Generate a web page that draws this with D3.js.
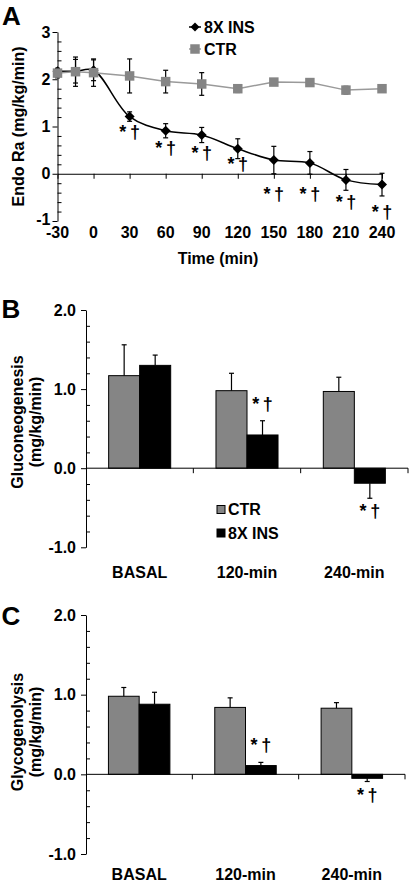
<!DOCTYPE html>
<html><head><meta charset="utf-8">
<script src="https://cdn.jsdelivr.net/npm/d3@7"></script>
<style>
body{margin:0;background:#fff}
svg{display:block}
text{font-family:"Liberation Sans",Arial,Helvetica,sans-serif;font-weight:bold;fill:#000}
</style>
</head><body>
<svg id="chart" width="410" height="886"></svg>
<script>
// ---------- Panel A data ----------
const timePoints = [-30, -15, 0, 30, 60, 90, 120, 150, 180, 210, 240];
const insRa    = [2.17, 2.17, 2.19, 1.21, 0.91, 0.82, 0.53, 0.29, 0.23, -0.13, -0.23];
const insRaErr = [0.06, 0.25, 0.22, 0.10, 0.15, 0.16, 0.21, 0.29, 0.24, 0.22, 0.24];
const ctrRa    = [2.13, 2.16, 2.14, 2.07, 1.95, 1.90, 1.80, 1.94, 1.93, 1.77, 1.80];
const ctrRaErr = [0.10, 0.31, 0.29, 0.36, 0.24, 0.24, 0.08, 0.06, 0.05, 0.08, 0.06];
const timeTicks = [-30, 0, 30, 60, 90, 120, 150, 180, 210, 240];
const raTicks = [3, 2, 1, 0, -1];
const sigTimes = [30, 60, 90, 120, 150, 180, 210, 240];
const sigLabelY = [0.76, 0.42, 0.31, 0.08, -0.56, -0.56, -0.73, -0.94];
const seriesA = ["8X INS", "CTR"];

// ---------- Panels B & C data ----------
const periods = ["BASAL", "120-min", "240-min"];
const groups = ["CTR", "8X INS"];
const gngCtr = [1.17, 0.98, 0.97];
const gngCtrErr = [0.39, 0.22, 0.18];
const gngIns = [1.30, 0.42, -0.19];
const gngInsErr = [0.13, 0.18, 0.19];
const glyCtr = [0.98, 0.84, 0.83];
const glyCtrErr = [0.11, 0.12, 0.07];
const glyIns = [0.88, 0.11, -0.05];
const glyInsErr = [0.15, 0.04, 0.04];
const barTicks = [2, 1, 0, -1];
const barSig = ["120-min", "240-min"];   // 8X INS significant periods

const svg = d3.select("#chart");
const FS = 16;
const SIG_FS = 18;
const SIG_TEXT = "*\u2009\u2020";
const grayFill = "#858585";
const grayLine = "#9a9a9a";

function styleAxis(g, size) {
  g.selectAll("path.domain").attr("stroke", "#000").attr("stroke-width", 1);
  g.selectAll(".tick line").attr("stroke", "#000").attr("stroke-width", 1);
  g.selectAll("text").attr("font-size", size || FS).attr("fill", "#000")
    .attr("font-family", '"Liberation Sans",Arial,sans-serif').attr("font-weight", "bold");
}
function minorValues(lo, hi, step) {
  const out = [];
  for (let v = lo; v <= hi + 1e-9; v += step) {
    const r = Math.round(v * 10) / 10;
    if (Math.abs(r - Math.round(r)) > 1e-6) out.push(r);
  }
  return out;
}

// ================= Panel A =================
(function () {
  const x = d3.scaleLinear().domain([-30, 240]).range([57.5, 382]);
  const y = d3.scaleLinear().domain([-1, 3]).range([221, 32]);

  svg.append("text").attr("x", 2).attr("y", 25).attr("font-size", 26).text("A");

  // y axis
  const ya = svg.append("g").attr("transform", `translate(${x(-30)},0)`)
    .call(d3.axisLeft(y).tickValues(raTicks).tickSize(5).tickSizeOuter(0).tickPadding(2).tickFormat(d => String(d)));
  styleAxis(ya);
  ya.selectAll(".tick text").filter(d => d === -1).attr("dy", "0.2em");
  const ym = svg.append("g").attr("transform", `translate(${x(-30)},0)`)
    .call(d3.axisRight(y).tickValues(minorValues(-1, 3, 0.2)).tickSize(4).tickFormat(""));
  ym.select("path.domain").remove();
  styleAxis(ym);

  // x axis at y=0
  const xa = svg.append("g").attr("transform", `translate(0,${y(0)})`)
    .call(d3.axisBottom(x).tickValues(timeTicks).tickSize(5).tickSizeOuter(0).tickFormat(""));
  styleAxis(xa);
  svg.append("g").selectAll("text").data(timeTicks).join("text")
    .attr("x", d => x(d)).attr("y", 238).attr("text-anchor", "middle")
    .attr("font-size", FS).text(d => String(d));

  svg.append("text").attr("x", 218).attr("y", 264).attr("text-anchor", "middle")
    .attr("font-size", FS).text("Time (min)");
  svg.append("text").attr("transform", `translate(23.5,${(y(3) + y(-1)) / 2}) rotate(-90)`)
    .attr("text-anchor", "middle").attr("font-size", FS).text("Endo Ra (mg/kg/min)");

  const ins = timePoints.map((t, i) => ({ t, v: insRa[i], e: insRaErr[i] }));
  const ctr = timePoints.map((t, i) => ({ t, v: ctrRa[i], e: ctrRaErr[i] }));

  function errBars(data, color) {
    const g = svg.append("g").attr("stroke", color).attr("stroke-width", 1.2);
    data.forEach(d => {
      g.append("line").attr("x1", x(d.t)).attr("x2", x(d.t)).attr("y1", y(d.v - d.e)).attr("y2", y(d.v + d.e));
      g.append("line").attr("x1", x(d.t) - 2.5).attr("x2", x(d.t) + 2.5).attr("y1", y(d.v - d.e)).attr("y2", y(d.v - d.e));
      g.append("line").attr("x1", x(d.t) - 2.5).attr("x2", x(d.t) + 2.5).attr("y1", y(d.v + d.e)).attr("y2", y(d.v + d.e));
    });
  }
  const diamond = (cx, cy, r) => `M${cx},${cy - r}L${cx + r},${cy}L${cx},${cy + r}L${cx - r},${cy}Z`;
  const square = d3.symbol(d3.symbolSquare, 90);

  // 8X INS (smooth line)
  errBars(ins, "#000");
  svg.append("path").datum(ins).attr("fill", "none").attr("stroke", "#000").attr("stroke-width", 1.5)
    .attr("d", d3.line().x(d => x(d.t)).y(d => y(d.v)).curve(d3.curveCatmullRom.alpha(0.5)));
  svg.append("g").selectAll("path").data(ins).join("path")
    .attr("d", d => diamond(x(d.t), y(d.v), 5)).attr("fill", "#000");

  // CTR
  errBars(ctr, "#000");
  svg.append("path").datum(ctr).attr("fill", "none").attr("stroke", grayLine).attr("stroke-width", 1.5)
    .attr("d", d3.line().x(d => x(d.t)).y(d => y(d.v)));
  svg.append("g").selectAll("path").data(ctr).join("path")
    .attr("transform", d => `translate(${x(d.t)},${y(d.v)})`).attr("d", square).attr("fill", grayFill);

  // significance
  svg.append("g").selectAll("text").data(sigTimes).join("text")
    .attr("x", d => x(d)).attr("y", (d, i) => y(sigLabelY[i])).attr("text-anchor", "middle")
    .attr("font-size", SIG_FS).text(SIG_TEXT);

  // legend
  const leg = svg.append("g");
  seriesA.forEach((s, i) => {
    const cy = 27 + i * 22;
    leg.append("line").attr("x1", 189).attr("x2", 201).attr("y1", cy).attr("y2", cy)
      .attr("stroke", i === 0 ? "#000" : grayLine).attr("stroke-width", 1.5);
    if (i === 0) leg.append("path").attr("d", diamond(195, cy, 4.5)).attr("fill", "#000");
    else leg.append("path").attr("transform", `translate(195,${cy})`).attr("d", square).attr("fill", grayFill);
    leg.append("text").attr("x", 204).attr("y", cy + 5.7).attr("font-size", FS).text(s);
  });
})();

// ================= Bar panels =================
function barPanel(opt) {
  const x0 = d3.scaleBand().domain(periods).range([86, opt.xEnd]).padding(0);
  const x1 = d3.scaleBand().domain(groups).range([0, x0.bandwidth()]).paddingInner(0).paddingOuter(0.73);
  const y = d3.scaleLinear().domain([-1, 2]).range([opt.yBottom, opt.yTop]);

  svg.append("text").attr("x", 1.5).attr("y", opt.labelY).attr("font-size", 26).text(opt.label);

  const ya = svg.append("g").attr("transform", `translate(86,0)`)
    .call(d3.axisLeft(y).tickValues(barTicks).tickSize(5).tickSizeOuter(0).tickPadding(5).tickFormat(d => d.toFixed(1)));
  styleAxis(ya);
  const ym = svg.append("g").attr("transform", `translate(86,0)`)
    .call(d3.axisRight(y).tickValues(minorValues(-1, 2, 0.2)).tickSize(4).tickFormat(""));
  ym.select("path.domain").remove();
  styleAxis(ym);

  const rows = periods.map((p, i) => [
    { p, g: "CTR", v: opt.ctr[i], e: opt.ctrErr[i] },
    { p, g: "8X INS", v: opt.ins[i], e: opt.insErr[i] }
  ]).flat();

  const bars = svg.append("g");
  rows.forEach(d => {
    const bx = x0(d.p) + x1(d.g);
    bars.append("rect").attr("x", bx).attr("width", x1.bandwidth())
      .attr("y", y(Math.max(0, d.v))).attr("height", Math.abs(y(d.v) - y(0)))
      .attr("fill", d.g === "CTR" ? grayFill : "#000").attr("stroke", "#000").attr("stroke-width", 1);
    const cx = bx + x1.bandwidth() / 2;
    const tip = d.v >= 0 ? d.v + d.e : d.v - d.e;
    bars.append("line").attr("x1", cx).attr("x2", cx).attr("y1", y(d.v)).attr("y2", y(tip)).attr("stroke", "#000").attr("stroke-width", 1.2);
    bars.append("line").attr("x1", cx - 2.5).attr("x2", cx + 2.5).attr("y1", y(tip)).attr("y2", y(tip)).attr("stroke", "#000").attr("stroke-width", 1.2);
    if (d.g === "8X INS" && barSig.includes(d.p)) {
      svg.append("text").attr("x", cx).attr("y", d.v >= 0 ? y(tip) - 11 : y(tip) + 19)
        .attr("text-anchor", "middle").attr("font-size", SIG_FS).text(SIG_TEXT);
    }
  });

  // x axis at 0 with ticks at category boundaries
  const xa = svg.append("g").attr("transform", `translate(0,${y(0)})`);
  xa.append("line").attr("x1", 86).attr("x2", opt.xEnd).attr("y1", 0).attr("y2", 0).attr("stroke", "#000");
  xa.selectAll("line.tk").data(periods).join("line").attr("class", "tk")
    .attr("x1", d => x0(d) + x0.bandwidth()).attr("x2", d => x0(d) + x0.bandwidth())
    .attr("y1", 0).attr("y2", 5).attr("stroke", "#000");
  svg.append("g").selectAll("text").data(periods).join("text")
    .attr("x", d => x0(d) + x0.bandwidth() / 2).attr("y", opt.catY).attr("text-anchor", "middle")
    .attr("font-size", FS).text(d => d);

  // y title (two lines)
  const cy = opt.titleCY;
  svg.append("text").attr("transform", `translate(23,${cy}) rotate(-90)`).attr("text-anchor", "middle")
    .attr("font-size", FS).text(opt.title);
  svg.append("text").attr("transform", `translate(40.5,${cy}) rotate(-90)`).attr("text-anchor", "middle")
    .attr("font-size", FS).text("(mg/kg/min)");

  if (opt.legend) {
    groups.forEach((gname, i) => {
      const ly = 509.5 + i * 23.5;
      svg.append("rect").attr("x", 217).attr("y", ly - 4).attr("width", 8).attr("height", 8)
        .attr("fill", gname === "CTR" ? grayFill : "#000").attr("stroke", "#000").attr("stroke-width", 1);
      svg.append("text").attr("x", 228).attr("y", ly + 5.5).attr("font-size", FS).text(gname);
    });
  }
}

barPanel({ label: "B", labelY: 318, xEnd: 408, yTop: 310, yBottom: 547.3, catY: 578,
  ctr: gngCtr, ctrErr: gngCtrErr, ins: gngIns, insErr: gngInsErr,
  title: "Gluconeogenesis", titleCY: 422, legend: true });
barPanel({ label: "C", labelY: 625, xEnd: 405, yTop: 615, yBottom: 854, catY: 880,
  ctr: glyCtr, ctrErr: glyCtrErr, ins: glyIns, insErr: glyInsErr,
  title: "Glycogenolysis", titleCY: 732, legend: false });
</script>
</body></html>
